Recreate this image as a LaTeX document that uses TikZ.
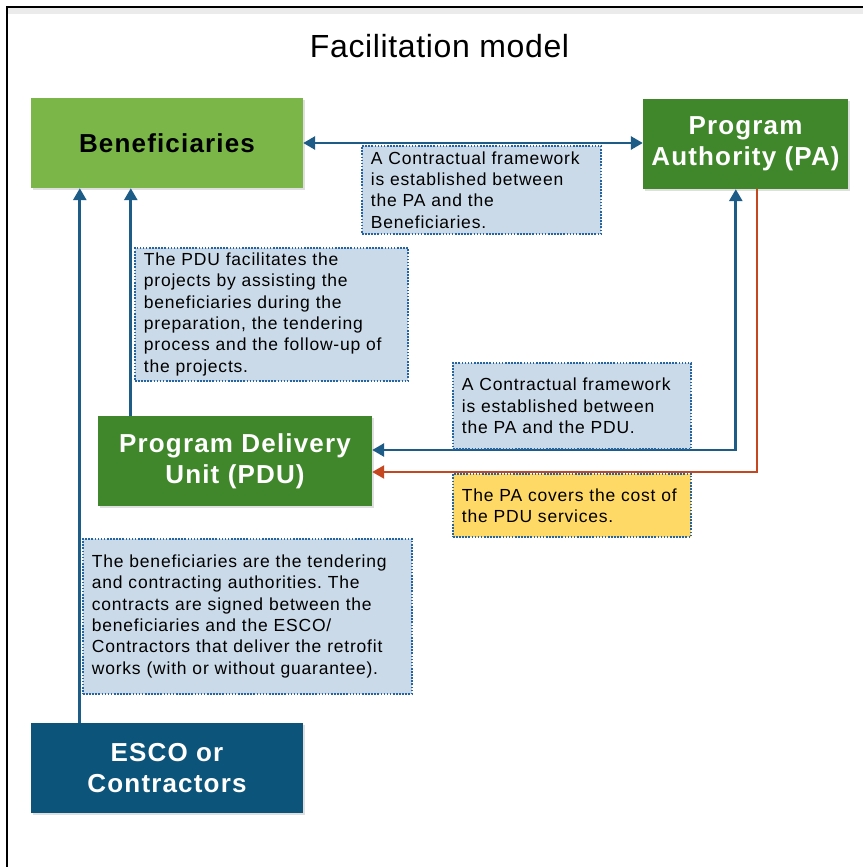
\documentclass[tikz,border=0pt]{standalone}
\usepackage{fontspec}
\setmainfont{Liberation Sans}
\newfontfamily\spaced[LetterSpace=4.5]{Liberation Sans}
\newfontfamily\titlefont[LetterSpace=2]{Liberation Sans}
\usetikzlibrary{arrows.meta,shadows}
\definecolor{lgreen}{HTML}{7AB648}
\definecolor{dgreen}{HTML}{40862A}
\definecolor{dblue}{HTML}{0C5479}
\definecolor{arrblue}{HTML}{1D5C86}
\definecolor{arrred}{HTML}{C4471F}
\definecolor{notefill}{HTML}{CADAE8}
\definecolor{noteyellow}{HTML}{FFD966}
\definecolor{noteline}{HTML}{2464A0}
\tikzset{
  boxnode/.style={minimum width=#1, minimum height=90pt, inner sep=0pt, align=center,
    font=\spaced\bfseries\fontsize{26}{31}\selectfont,
    drop shadow={opacity=0.25, shadow xshift=2pt, shadow yshift=-2pt}},
  notebox/.style={draw=noteline, line width=1.8pt, dash pattern=on 1.6pt off 1.5pt,
    fill=notefill, anchor=north west,
    align=left, inner xsep=9pt, inner ysep=0pt, text width=#1-18pt, minimum width=#1,
    font=\spaced\fontsize{17.5}{21.3}\selectfont},
  barrow/.style={draw=arrblue, line width=2.8pt},
  rarrow/.style={draw=arrred, line width=2.3pt},
  tip/.style={-{Triangle[length=12pt,width=13pt]}},
  twotip/.style={{Triangle[length=12pt,width=13pt]}-{Triangle[length=12pt,width=13pt]}}
}
\begin{document}
\frenchspacing
\begin{tikzpicture}[x=1pt,y=-1pt]
\useasboundingbox (0,0) rectangle (863,867);
\fill[white] (0,0) rectangle (863,867);
% frame
\fill[black!8] (8,8) rectangle (863,14);
\coordinate (fa) at (7,867);
\coordinate (fb) at (7,7);
\coordinate (fc) at (863,7);
\draw[line width=2pt, black] (fa) -- (fb) -- (fc);
% title
\node[anchor=base, font=\titlefont\fontsize{32}{38}\selectfont] (title) at (439.5,57.7) {Facilitation model};
% boxes
\node[boxnode=272pt, fill=lgreen, text=black] (ben) at (167,143) {Beneficiaries};
\node[boxnode=205pt, fill=dgreen, text=white] (pa) at (745.5,144) {Program\\Authority (PA)};
\node[boxnode=274pt, fill=dgreen, text=white] (pdu) at (235,461) {Program Delivery\\Unit (PDU)};
\node[boxnode=272pt, fill=dblue, text=white] (esco) at (167,768) {ESCO or\\Contractors};
% connector anchors
\coordinate (e1) at ([xshift=49pt]esco.north west);
\coordinate (p1) at ([xshift=33pt]pdu.north west);
\coordinate (pb) at ([yshift=11pt]pdu.east);
\coordinate (pr) at ([yshift=-11pt]pdu.east);
\coordinate (ab) at ([xshift=93pt]pa.south west);
\coordinate (ar) at ([xshift=114pt]pa.south west);
% connectors
\draw[barrow, twotip] (ben.east) -- (ben.east -| pa.west);
\draw[barrow, tip] (e1) -- (e1 |- ben.south);
\draw[barrow, tip] (p1) -- (p1 |- ben.south);
\draw[barrow, twotip] (pb) -| (ab);
\draw[rarrow, tip] (ar) |- (pr);
% notes
\node[notebox=239pt, minimum height=88pt] (n1) at (361,145)
  {A Contractual framework\\is established between\\the PA and the\\Beneficiaries.};
\node[notebox=273pt, minimum height=133pt] (n2) at (134,247)
  {The PDU facilitates the\\projects by assisting the\\beneficiaries during the\\preparation, the tendering\\process and the follow-up of\\the projects.};
\node[notebox=238pt, minimum height=86pt] (n3) at (452,362)
  {A Contractual framework\\is established between\\the PA and the PDU.};
\node[notebox=238pt, fill=noteyellow, minimum height=63pt] (n4) at (452,473)
  {The PA covers the cost of\\the PDU services.};
\node[notebox=329pt, minimum height=155pt] (n5) at (82,538)
  {The beneficiaries are the tendering\\and contracting authorities. The\\contracts are signed between the\\beneficiaries and the ESCO/\\Contractors that deliver the retrofit\\works (with or without guarantee).};
\end{tikzpicture}
\end{document}
